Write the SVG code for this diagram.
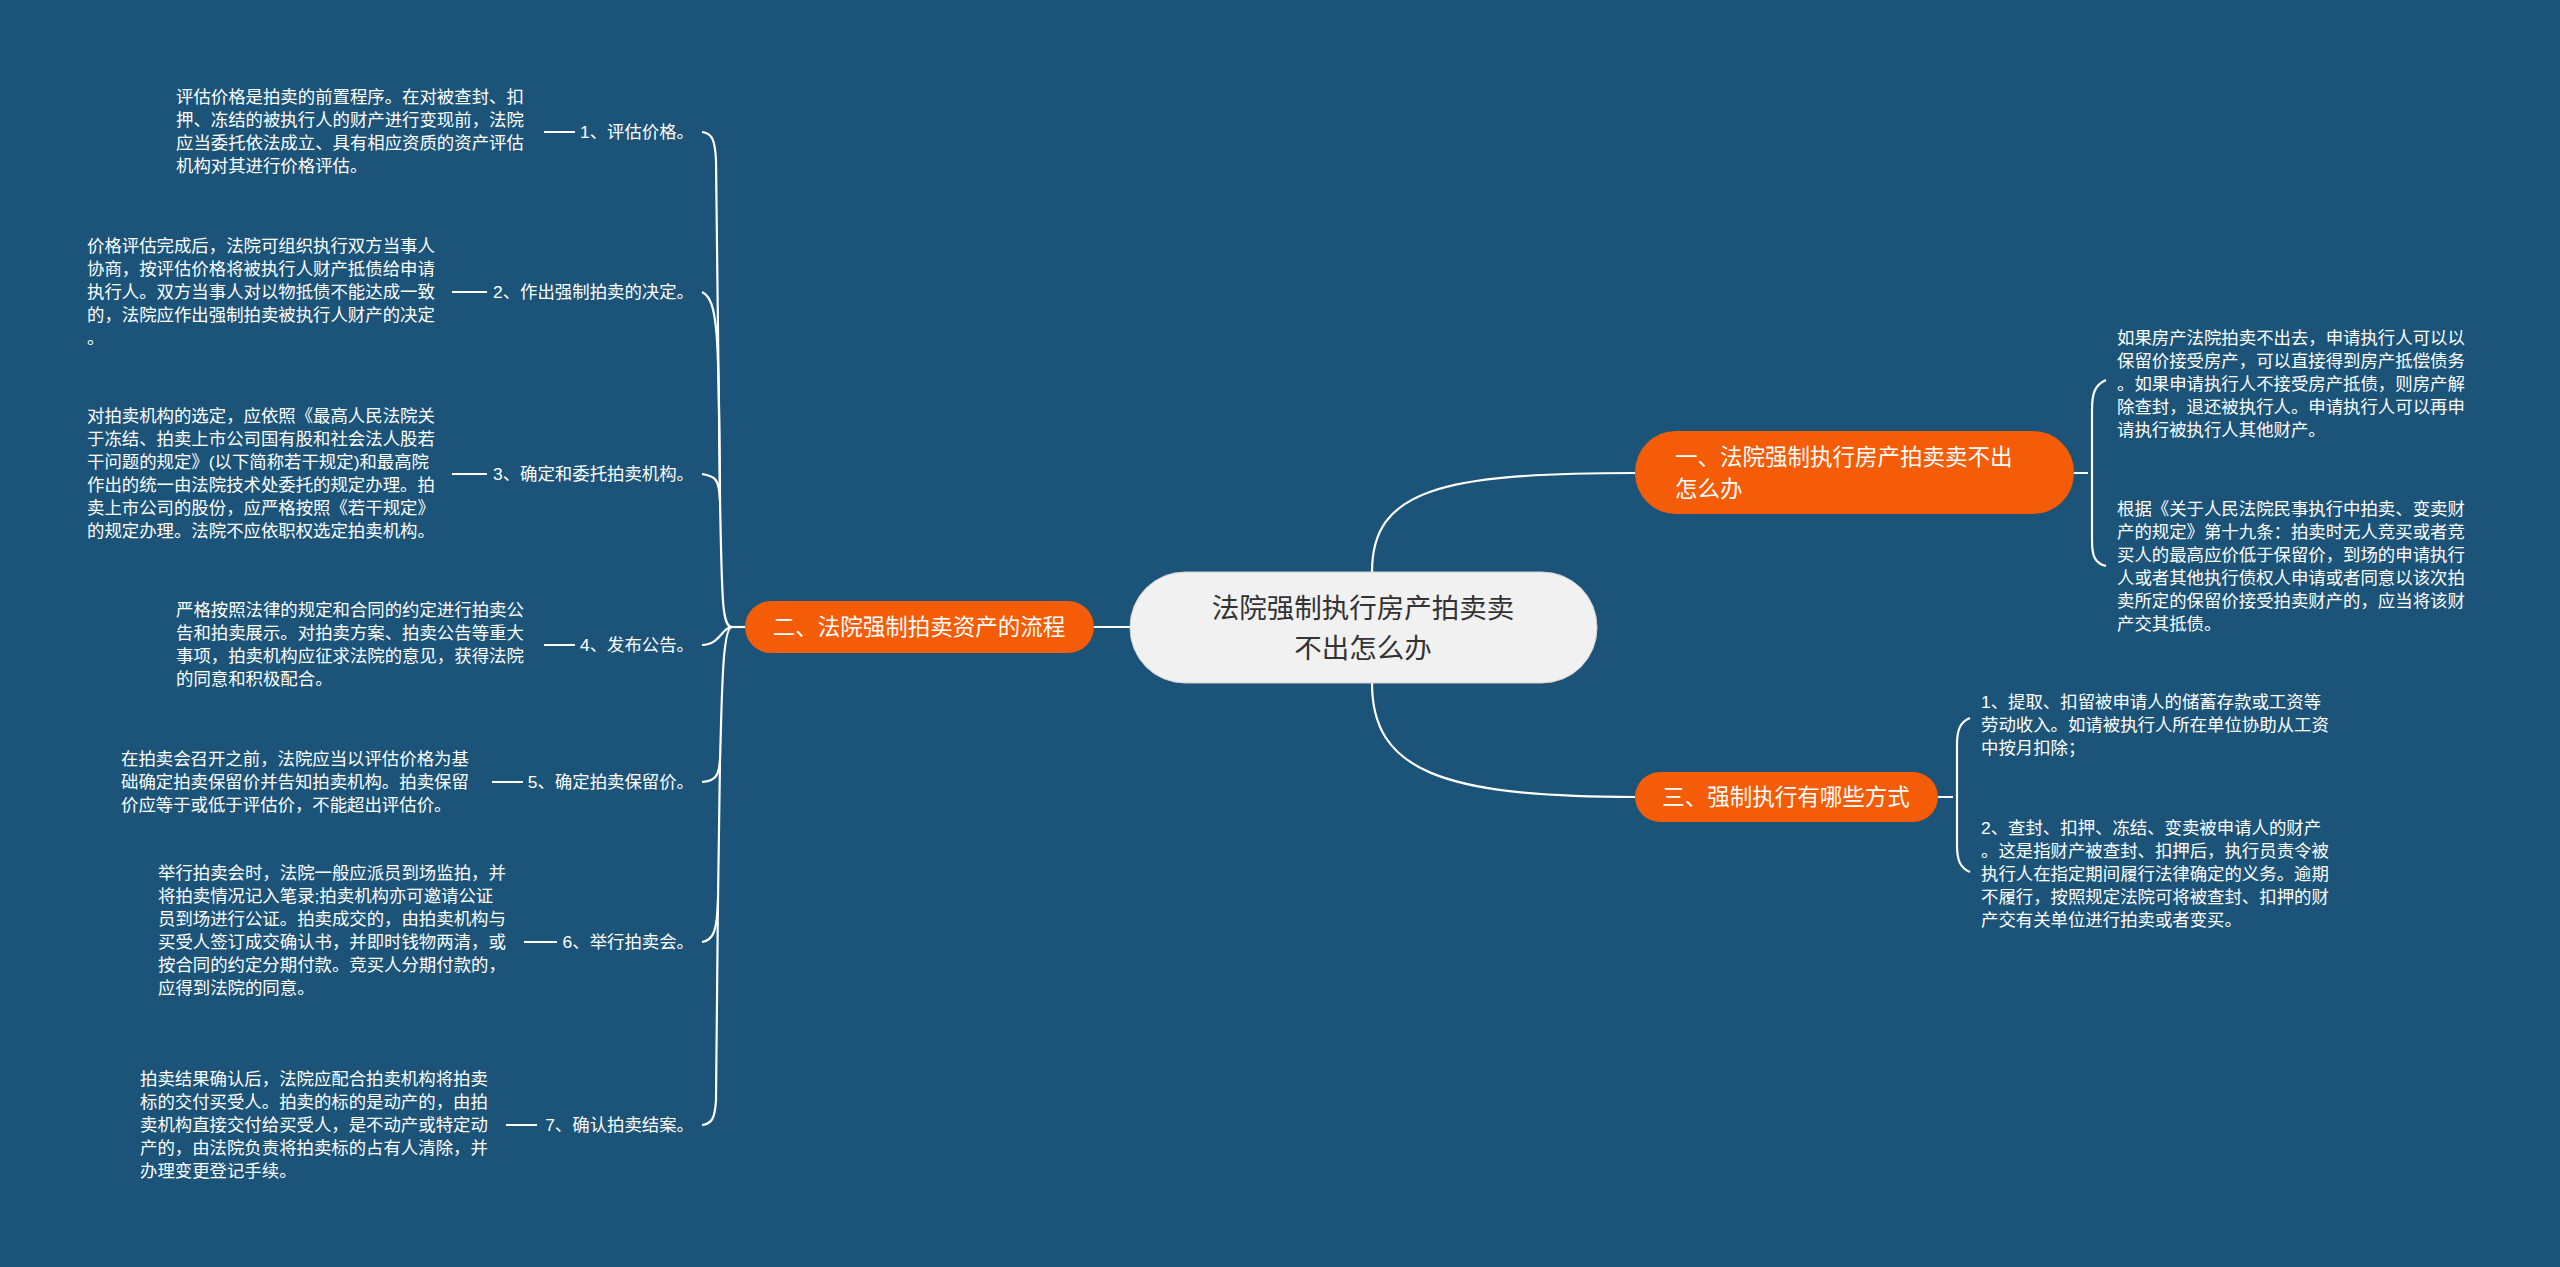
<svg xmlns="http://www.w3.org/2000/svg" width="2560" height="1267" viewBox="0 0 2560 1267">
<style>
text{font-family:"Liberation Sans","Noto Sans CJK SC",sans-serif;fill:#fff}
.d{font-size:17.4px}
.l{font-size:17.4px;text-anchor:end}
.b{font-size:22.5px}
.c{stroke:#fff;stroke-width:2.2;fill:none}
.o{fill:#f55c07}
</style>
<rect width="2560" height="1267" fill="#1b5478"/>
<g id="connectors">
<path class="c" d="M1130 627 L1094 627"/>
<path class="c" d="M1372 572 C1372 490 1440 473 1635 473"/>
<path class="c" d="M1372 683 C1372 770 1440 797 1635 797"/>
<path class="c" d="M2074 473 L2088 473 M2106 380 C2094 385 2092 395 2092 410 L2092 540 C2092 555 2094 563 2106 566"/>
<path class="c" d="M1938 797 L1953 797 M1970 718 C1960 722 1957 730 1957 745 L1957 845 C1957 860 1960 868 1970 872"/>
<path class="c" d="M745 627 L732 627"/>
<path class="c" d="M732 627 C722 627 722 600 720 500 L716 160 C715 140 712 133 702 132"/>
<path class="c" d="M720 500 C719 330 718 300 702 292"/>
<path class="c" d="M720 500 C719 480 716 476 702 474"/>
<path class="c" d="M732 627 C722 627 720 645 702 645"/>
<path class="c" d="M732 627 C722 627 722 700 720 760 C719 775 716 781 702 782"/>
<path class="c" d="M720 760 L718 900 C717 930 714 940 702 942"/>
<path class="c" d="M718 900 L716 1100 C715 1118 712 1124 702 1125"/>
<path class="c" d="M544 132 H575 M452 292 H487 M452 474 H487 M544 645 H575 M492 782 H523 M524 942 H557 M506 1125 H537"/>
</g>
<g id="center">
<rect x="1130" y="572" width="467" height="111" rx="55" fill="#f1f1f1" stroke="#cfcfcf"/>
<text x="1363" y="618" font-size="27.5" text-anchor="middle" style="fill:#333">法院强制执行房产拍卖卖</text>
<text x="1363" y="658" font-size="27.5" text-anchor="middle" style="fill:#333">不出怎么办</text>
</g>
<g id="b1">
<rect class="o" x="1635" y="431" width="439" height="83" rx="41"/>
<text class="b" x="1675" y="465">一、法院强制执行房产拍卖卖不出</text>
<text class="b" x="1675" y="497">怎么办</text>
</g>
<g id="b2">
<rect class="o" x="745" y="601" width="349" height="52" rx="26"/>
<text class="b" x="919" y="635" text-anchor="middle">二、法院强制拍卖资产的流程</text>
</g>
<g id="b3">
<rect class="o" x="1635" y="772" width="303" height="50" rx="25"/>
<text class="b" x="1786" y="805" text-anchor="middle">三、强制执行有哪些方式</text>
</g>
<g id="r1a" class="d">
<text x="2117" y="344">如果房产法院拍卖不出去，申请执行人可以以</text>
<text x="2117" y="367">保留价接受房产，可以直接得到房产抵偿债务</text>
<text x="2117" y="390">。如果申请执行人不接受房产抵债，则房产解</text>
<text x="2117" y="413">除查封，退还被执行人。申请执行人可以再申</text>
<text x="2117" y="436">请执行被执行人其他财产。</text>
</g>
<g id="r1b" class="d">
<text x="2117" y="515">根据《关于人民法院民事执行中拍卖、变卖财</text>
<text x="2117" y="538">产的规定》第十九条：拍卖时无人竞买或者竞</text>
<text x="2117" y="561">买人的最高应价低于保留价，到场的申请执行</text>
<text x="2117" y="584">人或者其他执行债权人申请或者同意以该次拍</text>
<text x="2117" y="607">卖所定的保留价接受拍卖财产的，应当将该财</text>
<text x="2117" y="630">产交其抵债。</text>
</g>
<g id="r3a" class="d">
<text x="1981" y="708">1、提取、扣留被申请人的储蓄存款或工资等</text>
<text x="1981" y="731">劳动收入。如请被执行人所在单位协助从工资</text>
<text x="1981" y="754">中按月扣除；</text>
</g>
<g id="r3b" class="d">
<text x="1981" y="834">2、查封、扣押、冻结、变卖被申请人的财产</text>
<text x="1981" y="857">。这是指财产被查封、扣押后，执行员责令被</text>
<text x="1981" y="880">执行人在指定期间履行法律确定的义务。逾期</text>
<text x="1981" y="903">不履行，按照规定法院可将被查封、扣押的财</text>
<text x="1981" y="926">产交有关单位进行拍卖或者变买。</text>
</g>
<g id="l1">
<text class="l" x="694" y="138">1、评估价格。</text>
<g class="d"><text x="176" y="103">评估价格是拍卖的前置程序。在对被查封、扣</text><text x="176" y="126">押、冻结的被执行人的财产进行变现前，法院</text><text x="176" y="149">应当委托依法成立、具有相应资质的资产评估</text><text x="176" y="172">机构对其进行价格评估。</text></g>
</g>
<g id="l2">
<text class="l" x="694" y="298">2、作出强制拍卖的决定。</text>
<g class="d"><text x="87" y="252">价格评估完成后，法院可组织执行双方当事人</text><text x="87" y="275">协商，按评估价格将被执行人财产抵债给申请</text><text x="87" y="298">执行人。双方当事人对以物抵债不能达成一致</text><text x="87" y="321">的，法院应作出强制拍卖被执行人财产的决定</text><text x="87" y="344">。</text></g>
</g>
<g id="l3">
<text class="l" x="694" y="480">3、确定和委托拍卖机构。</text>
<g class="d"><text x="87" y="422">对拍卖机构的选定，应依照《最高人民法院关</text><text x="87" y="445">于冻结、拍卖上市公司国有股和社会法人股若</text><text x="87" y="468">干问题的规定》(以下简称若干规定)和最高院</text><text x="87" y="491">作出的统一由法院技术处委托的规定办理。拍</text><text x="87" y="514">卖上市公司的股份，应严格按照《若干规定》</text><text x="87" y="537">的规定办理。法院不应依职权选定拍卖机构。</text></g>
</g>
<g id="l4">
<text class="l" x="694" y="651">4、发布公告。</text>
<g class="d"><text x="176" y="616">严格按照法律的规定和合同的约定进行拍卖公</text><text x="176" y="639">告和拍卖展示。对拍卖方案、拍卖公告等重大</text><text x="176" y="662">事项，拍卖机构应征求法院的意见，获得法院</text><text x="176" y="685">的同意和积极配合。</text></g>
</g>
<g id="l5">
<text class="l" x="694" y="788">5、确定拍卖保留价。</text>
<g class="d"><text x="121" y="765">在拍卖会召开之前，法院应当以评估价格为基</text><text x="121" y="788">础确定拍卖保留价并告知拍卖机构。拍卖保留</text><text x="121" y="811">价应等于或低于评估价，不能超出评估价。</text></g>
</g>
<g id="l6">
<text class="l" x="694" y="948">6、举行拍卖会。</text>
<g class="d"><text x="158" y="879">举行拍卖会时，法院一般应派员到场监拍，并</text><text x="158" y="902">将拍卖情况记入笔录;拍卖机构亦可邀请公证</text><text x="158" y="925">员到场进行公证。拍卖成交的，由拍卖机构与</text><text x="158" y="948">买受人签订成交确认书，并即时钱物两清，或</text><text x="158" y="971">按合同的约定分期付款。竞买人分期付款的，</text><text x="158" y="994">应得到法院的同意。</text></g>
</g>
<g id="l7">
<text class="l" x="694" y="1131">7、确认拍卖结案。</text>
<g class="d"><text x="140" y="1085">拍卖结果确认后，法院应配合拍卖机构将拍卖</text><text x="140" y="1108">标的交付买受人。拍卖的标的是动产的，由拍</text><text x="140" y="1131">卖机构直接交付给买受人，是不动产或特定动</text><text x="140" y="1154">产的，由法院负责将拍卖标的占有人清除，并</text><text x="140" y="1177">办理变更登记手续。</text></g>
</g>
</svg>
